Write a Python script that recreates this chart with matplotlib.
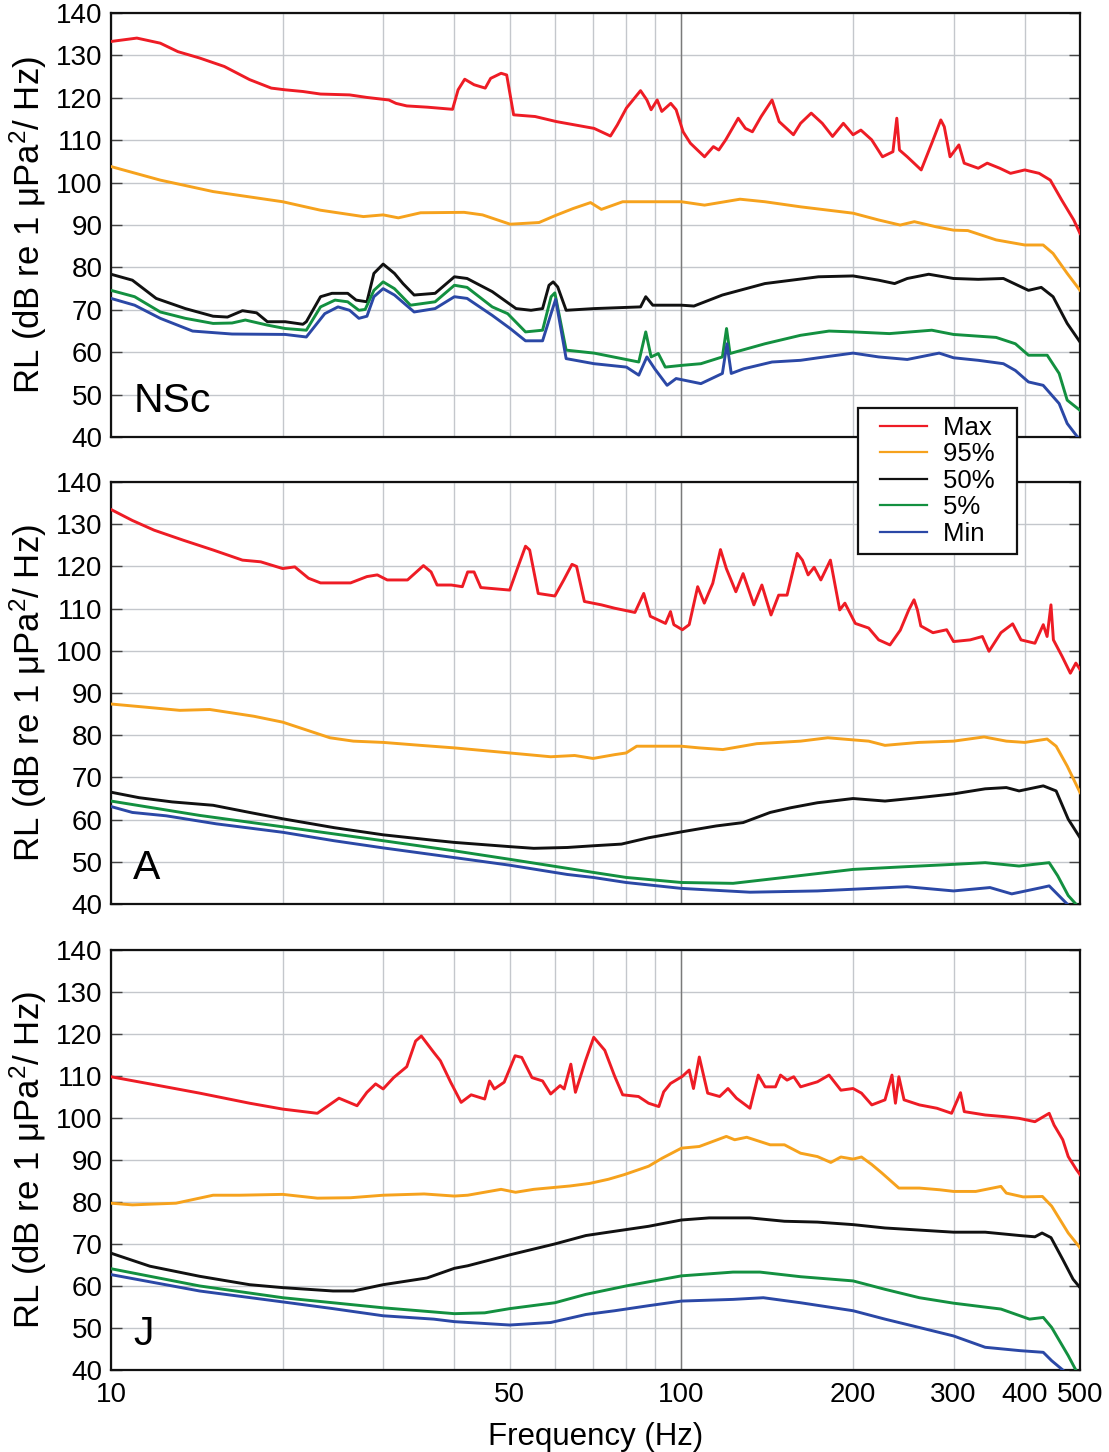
import matplotlib.pyplot as plt
from matplotlib.ticker import FixedLocator, FixedFormatter
from matplotlib.legend_handler import HandlerLine2D
from matplotlib.lines import Line2D

plt.rcParams['font.family'] = ['Liberation Sans', 'DejaVu Sans']
plt.rcParams['mathtext.fontset'] = 'custom'
plt.rcParams['mathtext.rm'] = 'Liberation Sans'
plt.rcParams['mathtext.it'] = 'Liberation Sans:italic'

# ---- site NSc ----
nsc_f_max = [10, 11.1, 12.2, 13.1, 14.3, 15.8, 17.5, 19.1, 20.2, 21.7, 23.3, 26.2, 28.1, 30.7, 31.6, 33.0, 35.9,
             39.7, 40.6, 41.7, 43.3, 45.3, 46.3, 48.3, 49.4, 50.8, 55.4, 60.4, 70.3, 75.1, 77.2, 80.1, 84.8,
             87.0, 88.5, 90.7, 92.4, 95.8, 97.9, 100.7, 103.7, 109.8, 113.8, 116.3, 119.6, 125.8, 129.5, 133.2,
             138.0, 144.2, 148.4, 157.2, 161.8, 168.9, 176.6, 184.1, 192.3, 200, 206.4, 215.6, 225.2, 234.9,
             238.6, 241.2, 248.9, 263.3, 274.8, 285.0, 289.0, 295.8, 306.6, 313.2, 331.5, 343.7, 361.6, 377.6,
             400, 423.9, 443.4, 464.3, 487.4, 500]
nsc_max = [133.3, 134.1, 132.9, 130.9, 129.4, 127.4, 124.3, 122.3, 121.9, 121.5, 120.9, 120.7, 120.1, 119.5,
           118.7, 118.1, 117.8, 117.3, 121.9, 124.4, 123.1, 122.3, 124.6, 125.8, 125.4, 116.0, 115.6, 114.4,
           112.8, 111.0, 113.6, 117.6, 121.7, 119.5, 117.2, 119.5, 116.8, 118.7, 117.2, 112.0, 109.3, 106.1,
           108.5, 107.7, 110.1, 115.2, 112.8, 112.0, 115.6, 119.5, 114.4, 111.3, 114.0, 116.4, 114.0, 110.9,
           114.0, 111.3, 112.4, 110.1, 106.1, 107.3, 115.2, 107.7, 106.1, 103.0, 109.3, 114.8, 113.2, 106.1,
           108.9, 104.6, 103.4, 104.6, 103.4, 102.2, 103.0, 102.2, 100.6, 95.9, 91.2, 88.0]

nsc_f_p95 = [10, 12.2, 15.1, 20, 23.3, 27.7, 30, 31.9, 34.9, 41.6, 44.8, 50.1, 56.3, 60.0, 64.6, 69.3, 72.4,
             78.9, 91.1, 100, 109.8, 126.7, 140.1, 161.8, 200, 221.7, 241.9, 256.1, 279.4, 300, 317.8, 356.3,
             400, 430.8, 448.4, 474.7, 500]
nsc_p95 = [103.8, 100.6, 97.9, 95.5, 93.5, 92.0, 92.4, 91.7, 92.9, 93.0, 92.4, 90.2, 90.6, 92.2, 93.9, 95.3,
           93.7, 95.5, 95.5, 95.5, 94.7, 96.1, 95.5, 94.3, 92.8, 91.2, 90.0, 90.8, 89.6, 88.8, 88.7, 86.5,
           85.3, 85.3, 83.3, 78.6, 74.6]

nsc_f_p50 = [10, 10.9, 12.0, 13.5, 15.1, 16.0, 17.0, 18.0, 18.8, 20.2, 21.7, 22.0, 23.3, 24.4, 26.0, 26.9,
             28.1, 28.9, 30.0, 31.4, 32.5, 34.0, 37.0, 40.0, 42.1, 46.6, 51.3, 54.5, 57.1, 58.6, 59.6, 60.7,
             62.8, 70.3, 84.8, 86.6, 89.1, 100, 105.2, 118.0, 140.1, 173.9, 200, 221.7, 236.5, 248.9, 271.4,
             300, 331.5, 366.9, 406, 427.5, 448.4, 474.7, 500]
nsc_p50 = [78.4, 77.0, 72.7, 70.3, 68.5, 68.3, 69.8, 69.3, 67.2, 67.2, 66.6, 67.2, 73.1, 73.9, 73.9, 72.3,
           71.9, 78.6, 80.8, 78.6, 76.2, 73.5, 73.9, 77.8, 77.4, 74.3, 70.3, 69.9, 70.3, 75.8, 76.6, 75.4,
           69.9, 70.3, 70.7, 73.1, 71.1, 71.1, 70.9, 73.5, 76.2, 77.8, 78.0, 77.0, 76.2, 77.4, 78.4,
           77.4, 77.2, 77.4, 74.6, 75.3, 73.1, 66.8, 62.4]

nsc_f_p5 = [10, 11.0, 12.2, 13.5, 15.1, 16.3, 17.2, 18.8, 20.2, 22.0, 23.3, 24.7, 26.0, 27.2, 27.9, 28.9,
            30.0, 31.4, 33.5, 37.0, 40.0, 42.1, 46.6, 49.6, 53.3, 57.1, 59.1, 60.0, 62.8, 70.3, 84.2, 86.6,
            88.5, 91.1, 93.7, 100, 108.2, 118, 120, 121.7, 140.1, 161.8, 181.5, 200, 231.6, 274.8, 300,
            356.3, 385.1, 406, 437.9, 459.5, 474.7, 500]
nsc_p5 = [74.6, 73.1, 69.5, 68.0, 66.8, 66.9, 67.6, 66.4, 65.6, 65.2, 70.7, 72.3, 71.9, 69.9, 70.1, 74.6,
          76.6, 75.0, 71.1, 71.9, 75.8, 75.3, 70.7, 69.1, 64.8, 65.2, 73.1, 74.0, 60.5, 59.8, 57.7, 64.8,
          58.9, 59.7, 56.5, 56.9, 57.3, 58.9, 65.6, 59.7, 62.0, 64.0, 65.0, 64.8, 64.4, 65.2, 64.2,
          63.5, 62.0, 59.3, 59.3, 55.0, 48.7, 46.3]

nsc_f_min = [10, 11.0, 12.2, 13.9, 16.3, 20.2, 22.0, 23.7, 25.0, 26.2, 27.2, 28.1, 28.9, 30.0, 31.4, 34.0,
             37.0, 40.0, 42.1, 46.6, 50.1, 53.3, 57.1, 59.6, 60.2, 62.8, 70.3, 80.1, 84.2, 87.0, 89.8, 94.4,
             97.9, 108.2, 118, 120.2, 122.3, 128.6, 144.2, 161.8, 173.9, 200, 221.7, 248.9, 283.1, 300,
             331.5, 366.9, 385.1, 406, 430.8, 459.5, 474.7, 495]
nsc_min = [72.7, 71.1, 68.0, 65.0, 64.3, 64.2, 63.6, 69.1, 70.7, 69.9, 68.0, 68.5, 73.1, 75.0, 73.5, 69.5,
           70.3, 73.1, 72.7, 68.7, 65.6, 62.7, 62.7, 70.7, 72.5, 58.5, 57.3, 56.5, 54.6, 58.9, 56.1, 52.2,
           53.8, 52.6, 55.0, 62.0, 55.0, 56.1, 57.7, 58.1, 58.7, 59.8, 58.9, 58.3, 59.8, 58.7,
           58.1, 57.3, 55.7, 53.0, 52.2, 47.9, 43.2, 40.0]

# ---- site A ----
a_f_max = [10, 10.9, 11.9, 13.4, 15.1, 17.0, 18.3, 20, 21.0, 22.2, 23.3, 26.3, 28.1, 29.3, 30.5, 33.1, 35.3,
           36.4, 37.3, 39.5, 41.3, 42.2, 43.3, 44.5, 50, 51.7, 53.3, 54.2, 56.1, 60, 62.2, 64.3, 65.5, 67.6,
           72.4, 76.4, 82.9, 85.9, 88.2, 93.8, 95.7, 97.0, 100.4, 103.2, 106.8, 109.7, 113.5, 117.1, 119.9,
           124.6, 128.3, 134.0, 138.4, 143.6, 148.1, 153.2, 159.6, 163.0, 166.8, 170.9, 175.6, 182.5, 189.5,
           193.5, 201.8, 213.0, 221.8, 232.1, 242.0, 250.4, 255.8, 259.3, 262.9, 276.1, 291.8, 300, 320.9,
           337.1, 346.2, 363.3, 380.9, 394.0, 416.7, 431.0, 437.7, 444.6, 449.0, 465.0, 480.8, 491.6, 500]
a_max = [133.5, 130.9, 128.6, 126.2, 123.9, 121.5, 121.1, 119.5, 119.9, 117.2, 116.1, 116.1, 117.6, 118.0,
         116.8, 116.8, 120.2, 118.7, 115.6, 115.6, 115.2, 118.7, 118.7, 115.0, 114.4, 119.9, 124.8, 123.9,
         113.6, 113.0, 116.8, 120.5, 120.0, 111.7, 110.9, 110.1, 109.1, 113.6, 108.2, 106.5, 109.3, 106.2,
         105.0, 106.2, 115.2, 111.3, 116.0, 124.0, 119.5, 114.0, 118.3, 110.9, 115.6, 108.5, 113.2, 113.2,
         123.1, 121.5, 118.0, 119.8, 116.8, 121.5, 109.7, 111.3, 106.5, 105.4, 102.6, 101.4, 104.9, 109.7,
         112.1, 109.7, 105.9, 104.3, 105.0, 102.2, 102.6, 103.4, 99.9, 104.3, 106.4, 102.6, 101.8, 106.2,
         103.4, 110.9, 102.6, 98.7, 94.7, 97.1, 95.6]

a_f_p95 = [10, 11.4, 13.2, 14.9, 17.8, 20, 21.5, 24.2, 26.6, 30, 34.9, 40, 50, 59.0, 65.0, 70, 76.4, 80,
           83.5, 100, 107.5, 118.2, 135.6, 161.8, 180.6, 200, 213.0, 227.5, 260.7, 300, 339.4, 371.3, 400,
           437.7, 454.0, 474.7, 500]
a_p95 = [87.4, 86.7, 85.9, 86.1, 84.5, 83.1, 81.7, 79.4, 78.6, 78.3, 77.6, 77.0, 75.8, 74.9, 75.2, 74.5,
         75.4, 75.8, 77.4, 77.4, 77.0, 76.6, 78.0, 78.6, 79.4, 78.9, 78.6, 77.6, 78.3, 78.6, 79.6, 78.6,
         78.3, 79.1, 77.4, 72.7, 66.4]

a_f_p50 = [10, 11.2, 12.8, 15.1, 17.5, 20, 24.6, 30, 36.8, 40, 50, 55.1, 63.1, 70, 78.5, 87.6, 100, 115.1,
           128.3, 143.1, 155.3, 173.2, 200, 227.5, 260.7, 300, 340.9, 371.3, 390.9, 431.0, 454, 476.7, 500]
a_p50 = [66.5, 65.2, 64.2, 63.4, 61.7, 60.2, 58.1, 56.4, 55.1, 54.6, 53.6, 53.2, 53.4, 53.8, 54.2, 55.7,
         57.1, 58.5, 59.3, 61.7, 62.8, 64.0, 65.0, 64.4, 65.2, 66.1, 67.3, 67.6, 66.8, 68.0, 66.8, 60.1, 55.7]

a_f_p5 = [10, 14.3, 20, 30, 40, 50, 70, 80, 100, 123.2, 151.6, 200, 243.6, 300, 340.9, 390.9, 441.4,
          456.8, 476.7, 491.6]
a_p5 = [64.4, 61.0, 58.3, 55.0, 52.6, 50.6, 47.5, 46.3, 45.1, 44.9, 46.3, 48.2, 48.8, 49.4, 49.8, 49.0, 49.8,
        46.7, 42.0, 40.0]

a_f_min = [10, 10.9, 12.5, 15.3, 20, 24.6, 30, 40, 50, 63.1, 70, 80, 100, 131.9, 173.2, 200, 248.6, 300,
           347.6, 379.5, 428.2, 441.4, 474.7]
a_min = [63.1, 61.7, 60.9, 59.0, 57.0, 55.0, 53.3, 51.0, 49.2, 47.0, 46.3, 45.1, 43.7, 42.8, 43.1, 43.5,
         44.1, 43.1, 43.9, 42.4, 43.9, 44.3, 40.0]

# ---- site J ----
j_f_max = [10, 11.7, 14.3, 17.5, 20, 23.0, 25.1, 27.0, 28.1, 29.1, 30, 31.3, 33.0, 34.2, 35.0, 36.8, 37.8,
           39.4, 41.1, 42.8, 45.2, 46.1, 47.0, 48.9, 51.1, 52.5, 54.7, 57.1, 59.0, 61.3, 62.3, 64.0, 65.2,
           67.9, 70.2, 73.4, 76.4, 78.9, 84.1, 87.6, 91.3, 93.1, 95.7, 100.4, 103.2, 105.0, 107.5, 111.2,
           116.7, 120.7, 124.9, 131.9, 136.4, 140.2, 146.2, 149.2, 153.2, 157.4, 161.8, 173.2, 181.5, 190.4,
           200, 206.9, 215.7, 227.5, 234.0, 237.3, 240.6, 245.7, 261.4, 280.6, 297.7, 308.6, 313.3, 340.9,
           368.9, 390.9, 416.7, 441.4, 450.2, 466.3, 476.7, 492.6, 500]
j_max = [109.8, 108.1, 105.9, 103.5, 102.1, 101.1, 104.7, 102.9, 106.1, 108.1, 106.9, 109.6, 112.2, 118.3,
         119.5, 115.6, 113.6, 108.5, 103.7, 105.5, 104.5, 108.8, 106.9, 108.5, 114.8, 114.4, 109.6, 108.8,
         105.7, 107.7, 106.9, 112.8, 106.1, 113.6, 119.2, 116.1, 109.9, 105.5, 105.1, 103.5, 102.7, 106.2,
         108.2, 109.9, 111.4, 107.0, 114.5, 105.9, 105.1, 107.0, 104.7, 102.3, 110.2, 107.4, 107.4, 110.2,
         109.0, 109.8, 107.4, 108.6, 110.2, 106.6, 107.0, 105.9, 103.1, 104.3, 110.2, 103.5, 109.8, 104.3,
         103.1, 102.3, 101.1, 106.0, 101.5, 100.7, 100.3, 99.9, 99.1, 101.1, 98.3, 94.8, 90.8, 87.7, 86.5]

j_f_p95 = [10, 10.9, 13.0, 15.1, 16.8, 20, 23.0, 26.3, 30, 35.4, 40, 42.2, 48.3, 51.2, 55.1, 63.8, 69.0,
           74.5, 79.4, 87.6, 92.5, 100, 107.5, 119.9, 124.0, 130.2, 143.1, 151.6, 161.8, 173.2, 182.8,
           190.4, 200, 206.9, 215.7, 224.6, 240.6, 261.4, 283.6, 300, 328.2, 363.3, 371.3, 397.3, 429.5,
           445.9, 476.7, 500]
j_p95 = [79.7, 79.3, 79.7, 81.6, 81.6, 81.8, 80.9, 81.0, 81.6, 81.9, 81.4, 81.6, 83.0, 82.3, 83.0, 83.8,
         84.4, 85.4, 86.5, 88.5, 90.4, 92.8, 93.2, 95.6, 94.8, 95.4, 93.6, 93.6, 91.6, 90.8, 89.4,
         90.7, 90.2, 90.7, 88.9, 86.9, 83.3, 83.3, 82.9, 82.5, 82.5, 83.7, 82.1, 81.2, 81.3,
         79.0, 72.6, 69.1]

j_f_p50 = [10, 11.7, 14.3, 17.5, 20, 24.5, 26.6, 30, 35.8, 40, 42.2, 50, 60, 68.0, 74.5, 87.6, 100, 111.9,
           131.9, 151.6, 173.2, 200, 227.5, 261.4, 300, 340.9, 392.1, 416.7, 428.9, 444.7, 466.3, 486.1, 500]
j_p50 = [67.8, 64.7, 62.3, 60.3, 59.6, 58.8, 58.8, 60.3, 61.9, 64.2, 64.8, 67.4, 70.0, 72.0, 72.8, 74.2,
         75.7, 76.2, 76.2, 75.4, 75.2, 74.6, 73.8, 73.3, 72.8, 72.8, 72.0, 71.7, 72.6, 71.5, 66.3, 61.6, 59.6]

j_f_p5 = [10, 14.3, 20, 30, 40, 45.2, 50, 60, 68.0, 80, 100, 123.2, 137.3, 161.8, 200, 227.5, 261.4, 300,
          363.3, 407.7, 431.0, 445.9, 476.7, 491.5]
j_p5 = [64.1, 60.0, 57.2, 54.8, 53.4, 53.6, 54.6, 56.0, 58.0, 60.0, 62.4, 63.3, 63.3, 62.2, 61.2, 59.2,
        57.2, 55.9, 54.5, 52.1, 52.5, 50.1, 43.4, 40.0]

j_f_min = [10, 14.3, 20, 24.5, 30, 36.8, 40, 50, 59.0, 68.0, 76.4, 87.6, 100, 123.2, 139.2, 161.8, 200,
           227.5, 261.4, 300, 340.9, 392.1, 431.0, 445.9, 466.3]
j_min = [62.7, 58.8, 56.2, 54.6, 52.9, 52.1, 51.5, 50.7, 51.3, 53.2, 54.1, 55.3, 56.4, 56.8, 57.2, 56.0,
         54.1, 52.1, 50.1, 48.1, 45.4, 44.6, 44.2, 42.2, 40.0]

series_names = ['Max', '95%', '50%', '5%', 'Min']
series_colors = ['#ee1c25', '#f6a21d', '#111111', '#139040', '#2b48a6']

panels = [
    ('NSc', [(nsc_f_max, nsc_max), (nsc_f_p95, nsc_p95), (nsc_f_p50, nsc_p50),
             (nsc_f_p5, nsc_p5), (nsc_f_min, nsc_min)]),
    ('A', [(a_f_max, a_max), (a_f_p95, a_p95), (a_f_p50, a_p50), (a_f_p5, a_p5), (a_f_min, a_min)]),
    ('J', [(j_f_max, j_max), (j_f_p95, j_p95), (j_f_p50, j_p50), (j_f_p5, j_p5), (j_f_min, j_min)]),
]

grid_freqs = [10, 20, 30, 40, 50, 60, 70, 80, 90, 100, 200, 300, 400, 500]
tick_text = ['10', '', '', '', '50', '', '', '', '', '100', '200', '300', '400', '500']

fig = plt.figure(figsize=(11.09, 14.52), dpi=100)
boxes = [[0.1001, 0.6990, 0.8738, 0.2920],
         [0.1001, 0.3774, 0.8738, 0.2906],
         [0.1001, 0.0565, 0.8738, 0.2893]]

for i, (name, curves) in enumerate(panels):
    ax = fig.add_axes(boxes[i])
    for (f, v), lab, col in zip(curves, series_names, series_colors):
        ax.plot(f, v, color=col, lw=2.1, label=lab, zorder=3)
    ax.set_xscale('log')
    ax.set_xlim(10, 500)
    ax.set_ylim(40, 140)
    ax.xaxis.set_major_locator(FixedLocator(grid_freqs))
    ax.xaxis.set_minor_locator(FixedLocator([]))
    if i == 2:
        ax.xaxis.set_major_formatter(FixedFormatter(tick_text))
        ax.set_xlabel('Frequency (Hz)', fontsize=22.5, labelpad=10)
    else:
        ax.xaxis.set_major_formatter(FixedFormatter([''] * len(grid_freqs)))
    ax.set_yticks(range(40, 141, 10))
    ax.grid(True, color='#c4c7cc', lw=1.0, zorder=1)
    ax.axvline(100, color='#7a7a7a', lw=1.0, zorder=2)
    ax.tick_params(axis='x', length=0, pad=9, labelsize=20)
    ax.tick_params(axis='y', direction='in', length=8, width=1.0, color='#444444',
                   left=True, right=True, labelsize=20, pad=6)
    for sp in ax.spines.values():
        sp.set_linewidth(1.6)
        sp.set_color('#111111')
    ax.set_ylabel(r'RL (dB re 1 μPa$^2$/ Hz)', fontsize=25, labelpad=5)
    ax.text(0.023, 0.04, name, transform=ax.transAxes, fontsize=29.5, ha='left', va='bottom', zorder=4)

handles, labels = fig.axes[0].get_legend_handles_labels()
leg = fig.legend(handles, [lab + '  ' for lab in labels], loc='upper left',
                 bbox_to_anchor=(0.7737, 0.719),
                 fontsize=18.5, frameon=True, fancybox=False, framealpha=1, edgecolor='#111111',
                 handlelength=2.39, handletextpad=0.62, labelspacing=0.1, borderpad=0.3,
                 borderaxespad=0, handler_map={Line2D: HandlerLine2D(xpad=0.56)})
leg.get_frame().set_linewidth(1.6)
for h in leg.get_lines():
    h.set_linewidth(1.6)

fig.savefig('out.png', dpi=100)
